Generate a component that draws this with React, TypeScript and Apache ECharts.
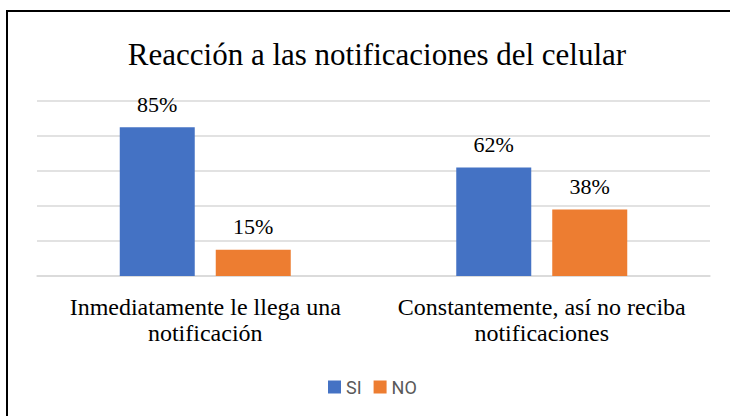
import React, { useEffect, useRef } from "react";
import * as echarts from "echarts";

const titleText = "Reacción a las notificaciones del celular";
const categories = [
  "Inmediatamente le llega una\nnotificación",
  "Constantemente, así no reciba\nnotificaciones",
];
const seriesNames = ["SI", "NO"];
const siValues = [85, 62];
const noValues = [15, 38];
const colors = ["#4472C4", "#ED7D31"];

const SERIF = "Liberation Serif";

export default function App() {
  const ref = useRef<HTMLDivElement>(null);
  useEffect(() => {
    if (!ref.current) return;
    const chart = echarts.init(ref.current, null, { renderer: "svg" });
    const labelCfg = {
      show: true,
      position: "top",
      distance: 12,
      formatter: "{c}%",
      fontFamily: SERIF,
      fontSize: 22,
      color: "#000",
    };
    chart.setOption({
      animation: false,
      backgroundColor: "#fff",
      textStyle: { fontFamily: SERIF },
      title: {
        text: titleText,
        left: 372,
        top: 34,
        textAlign: "center",
        textStyle: { fontFamily: SERIF, fontSize: 31, fontWeight: "normal", color: "#000" },
      },
      graphic: [
        {
          type: "rect",
          shape: { x: 7, y: 11, width: 760, height: 440 },
          style: { fill: "none", stroke: "#000", lineWidth: 2 },
          silent: true,
        },
      ],
      legend: {
        data: seriesNames,
        left: 323,
        top: 373,
        itemWidth: 13,
        itemHeight: 13,
        itemGap: 12,
        icon: "rect",
        textStyle: { fontFamily: "Roboto", fontSize: 18, color: "#595959" },
      },
      grid: { left: 37, right: 20, top: 101, bottom: 140, containLabel: false },
      xAxis: {
        type: "category",
        data: categories,
        axisLine: { lineStyle: { color: "#d9d9d9", width: 1.5 } },
        axisTick: { show: false },
        axisLabel: {
          margin: 18,
          fontFamily: SERIF,
          fontSize: 24,
          lineHeight: 26,
          color: "#000",
          interval: 0,
        },
      },
      yAxis: {
        type: "value",
        min: 0,
        max: 100,
        interval: 20,
        axisLabel: { show: false },
        axisLine: { show: false },
        axisTick: { show: false },
        splitLine: { lineStyle: { color: "#d9d9d9", width: 1.5 } },
      },
      series: [
        {
          name: seriesNames[0],
          type: "bar",
          data: siValues,
          barWidth: 75,
          barGap: "28%",
          itemStyle: { color: colors[0] },
          label: labelCfg,
        },
        {
          name: seriesNames[1],
          type: "bar",
          data: noValues,
          barWidth: 75,
          barGap: "28%",
          itemStyle: { color: colors[1] },
          label: labelCfg,
        },
      ],
    });
    return () => chart.dispose();
  }, []);
  return (
    <div
      ref={ref}
      style={{ position: "absolute", left: 0, top: 0, width: 730, height: 416 }}
    />
  );
}
